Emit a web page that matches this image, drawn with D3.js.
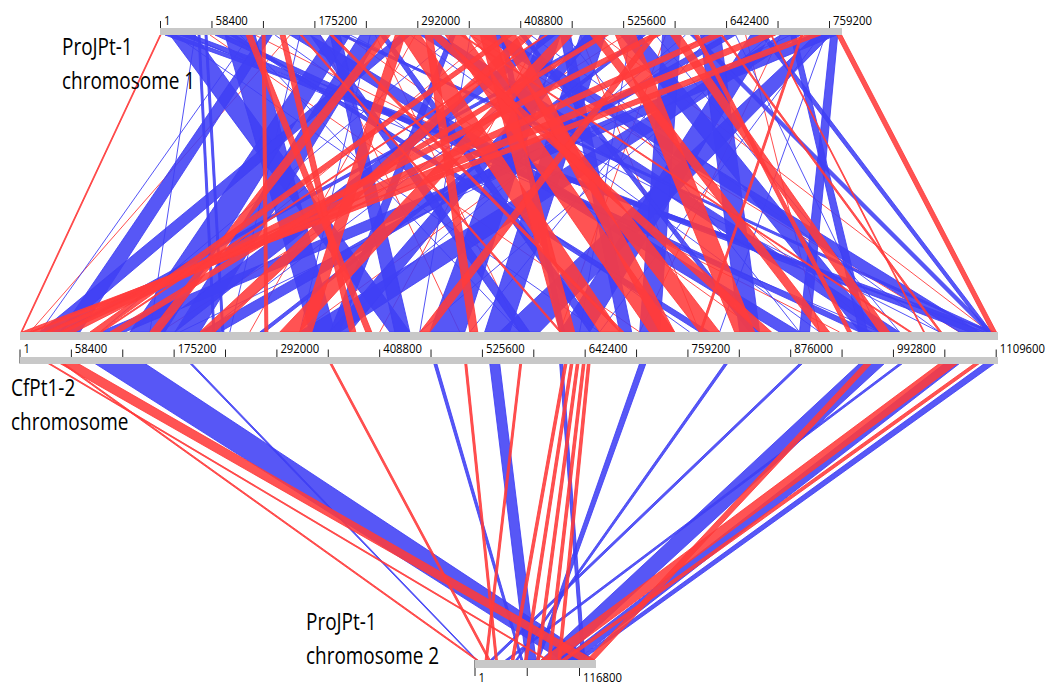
<!DOCTYPE html>
<html>
<head>
<meta charset="utf-8">
<script src="https://cdn.jsdelivr.net/npm/d3@7/dist/d3.min.js"></script>
<style>
  html, body { margin: 0; padding: 0; background: #fff; }
  svg { display: block; }
</style>
</head>
<body>
<svg id="chart" width="1050" height="686"></svg>
<script>
// ---- chromosome lengths (bp) ----
const chr1Length = 773600;     // ProJPt-1 chromosome 1
const cfLength = 1112000;      // CfPt1-2 chromosome
const chr2Length = 136000;     // ProJPt-1 chromosome 2

// ---- tick positions and labelled ticks (bp) ----
const chr1Ticks = [1, 58400, 116800, 175200, 233600, 292000, 350400, 408800, 467200, 525600, 584000, 642400, 700800, 759200];
const chr1Labels = [1, 58400, 175200, 292000, 408800, 525600, 642400, 759200];
const cfTicks = [1, 58400, 116800, 175200, 233600, 292000, 350400, 408800, 467200, 525600, 584000, 642400, 700800, 759200, 817600, 876000, 934400, 992800, 1051200, 1109600];
const cfLabels = [1, 58400, 175200, 292000, 408800, 525600, 642400, 759200, 876000, 992800, 1109600];
const chr2Ticks = [1, 58400, 116800];
const chr2Labels = [1, 116800];

// ---- syntenic blocks chromosome 1 <-> CfPt1-2 (kb): [chr1 start, chr1 end, cf start, cf end] ----
const upperRedBlocks = [
  [0.0, 1.1, 1.7, 2.8], [767.9, 773.6, 1104.8, 1110.4], [693.0, 694.1, 1027.5, 1028.6],
  [606.6, 611.2, 941.2, 945.7], [732.7, 749.8, 2.8, 14.2], [681.6, 698.6, 11.9, 34.6],
  [624.8, 638.4, 29.0, 51.7], [556.6, 568.0, 46.0, 63.0], [499.8, 508.9, 102.8, 114.2],
  [323.8, 346.5, 716.2, 744.6], [352.2, 374.9, 773.0, 795.8], [272.6, 295.4, 659.4, 682.2],
  [386.2, 403.3, 727.6, 744.6], [301.0, 309.0, 511.8, 520.9], [97.7, 104.5, 393.6, 400.4],
  [115.9, 119.3, 278.9, 282.3], [136.3, 142.0, 375.4, 382.3], [454.4, 468.0, 295.9, 318.6],
  [516.9, 539.6, 812.8, 835.5], [556.6, 563.5, 455.0, 466.3], [159.0, 161.3, 614.0, 616.3],
  [193.1, 196.5, 682.2, 686.7], [409.0, 422.6, 205.0, 222.1], [488.5, 499.8, 909.4, 920.7],
  [579.4, 590.7, 977.5, 988.9], [636.2, 638.4, 1045.7, 1048.0], [249.9, 261.3, 148.2, 159.6],
  [340.8, 343.1, 1011.6, 1013.9], [437.4, 439.6, 91.4, 93.7], [727.0, 729.3, 773.0, 775.3],
  [363.5, 380.6, 614.0, 631.0], [267.0, 278.3, 318.6, 332.3], [391.9, 399.9, 80.1, 91.4],
  [306.7, 318.1, 841.2, 854.8]
];
const upperBlueBlocks = [
  [5.7, 17.0, 1096.8, 1108.2], [22.7, 36.4, 1079.8, 1096.8], [43.2, 45.4, 219.8, 222.1],
  [51.1, 53.4, 230.0, 232.3], [11.4, 39.8, 420.9, 443.6], [73.8, 107.9, 330.0, 358.4],
  [193.1, 215.8, 125.5, 165.3], [227.2, 249.9, 176.6, 205.0], [431.7, 454.4, 466.3, 506.1],
  [477.1, 505.5, 528.8, 557.2], [738.4, 767.9, 91.4, 119.8], [704.3, 727.0, 318.6, 364.1],
  [744.1, 761.1, 545.8, 591.3], [670.2, 693.0, 614.0, 648.1], [613.4, 636.2, 818.5, 841.2],
  [522.6, 545.3, 954.8, 977.5], [147.7, 170.4, 863.9, 886.6], [295.4, 318.1, 977.5, 1000.2],
  [363.5, 386.2, 1068.4, 1091.1], [115.9, 127.2, 46.0, 68.7], [272.6, 284.0, 23.3, 46.0],
  [454.4, 465.8, 682.2, 695.8], [570.3, 590.7, 704.9, 727.6], [641.8, 653.2, 205.0, 227.8],
  [499.8, 505.5, 46.0, 52.8], [62.5, 73.8, 954.8, 968.4], [204.5, 210.2, 1100.2, 1105.9],
  [329.4, 335.1, 352.7, 364.1], [602.1, 607.8, 1100.2, 1105.9], [681.6, 687.3, 1100.2, 1104.8],
  [409.0, 414.6, 829.8, 835.5], [170.4, 181.8, 568.6, 579.9], [545.3, 551.0, 273.2, 278.9],
  [249.9, 255.6, 648.1, 659.4], [79.5, 85.2, 773.0, 784.4], [761.1, 769.1, 886.6, 898.0],
  [715.7, 721.4, 954.8, 963.9], [386.2, 391.9, 614.0, 619.7], [193.1, 204.5, 426.6, 443.6],
  [482.8, 494.2, 352.7, 375.4], [437.4, 448.7, 148.2, 176.6]
];
// single short hits chromosome 1 <-> CfPt1-2 (kb): [chr1 position, cf position]
const upperRedHits = [
  [56.8, 704.9], [107.9, 932.1], [181.8, 500.4], [210.2, 841.2], [244.2, 568.6],
  [289.7, 261.8], [374.9, 125.5], [403.3, 977.5], [431.7, 409.5], [477.1, 773.0],
  [528.2, 159.6], [573.7, 614.0], [619.1, 318.6], [664.6, 909.4], [704.3, 704.9],
  [147.7, 11.9], [352.2, 1068.4], [499.8, 1102.5]
];
const upperBlueHits = [
  [17.0, 659.4], [28.4, 977.5], [39.8, 148.2], [90.9, 568.6], [102.2, 23.3],
  [130.6, 761.7], [159.0, 239.1], [215.8, 1045.7], [238.6, 318.6], [284.0, 909.4],
  [335.1, 91.4], [352.2, 455.0], [420.3, 1045.7], [460.1, 886.6], [494.2, 210.7],
  [533.9, 636.7], [562.3, 1000.2], [596.4, 352.7], [624.8, 511.8], [653.2, 977.5],
  [693.0, 455.0], [715.7, 182.3], [755.4, 795.8], [749.8, 659.4]
];

// ---- syntenic blocks CfPt1-2 <-> chromosome 2 (kb): [cf start, cf end, chr2 start, chr2 end] ----
const lowerBlueBlocks = [
  [85.8, 142.6, 97.1, 134.0], [193.7, 196.0, 1.7, 2.8], [470.9, 474.3, 51.7, 54.0],
  [534.5, 545.8, 57.4, 68.7], [704.9, 712.0, 68.7, 72.0], [801.4, 804.9, 46.0, 48.3],
  [954.8, 983.2, 74.4, 97.1], [1051.4, 1068.4, 97.1, 114.2], [1096.8, 1108.2, 114.2, 119.8],
  [1000.2, 1003.7, 34.6, 38.1], [614.0, 617.4, 119.8, 123.3], [886.6, 890.1, 17.6, 21.0]
];
const lowerRedBlocks = [
  [46.0, 66.5, 117.6, 133.5], [32.4, 34.6, 80.1, 82.4], [48.3, 50.6, 1.7, 4.0],
  [352.7, 355.0, 15.3, 17.6], [506.1, 508.4, 23.3, 25.6],
  [619.3, 622.3, 41.1, 44.1], [626.1, 629.1, 55.9, 58.9], [632.9, 635.9, 69.5, 72.5],
  [639.8, 642.8, 82.0, 85.0], [645.5, 648.5, 93.4, 96.4],
  [960.5, 968.4, 125.5, 133.5], [1045.7, 1066.1, 74.4, 91.4], [568.6, 570.8, 11.9, 14.2],
  [1085.4, 1091.1, 97.1, 102.8]
];

const RED = "#ff3b3b";
const BLUE = "#4040f5";
const BAR = "#c8c8c8";
const FONT = "'Open Sans', 'DejaVu Sans', sans-serif";
const NAME_SQUEEZE = 0.79;   // horizontal squeeze for a condensed look
const TICK_SQUEEZE = 0.84;
const kb = v => v * 1000;

const svg = d3.select("#chart");

// ---- scales ----
const xChr1 = d3.scaleLinear().domain([1, 759200]).range([160, 829]);
const xCf = d3.scaleLinear().domain([1, 1109600]).range([19.5, 995.7]);
const xChr2 = d3.scaleLinear().domain([1, 116800]).range([474.5, 579]);

// vertical layout
const yChr1Bar = 28, chr1BarH = 7;
const yCfBarA = 332, cfBarAH = 8;
const yCfBarB = 356.5, cfBarBH = 7;
const yChr2Bar = 660, chr2BarH = 8;

const linkLayer = svg.append("g");

// ribbons between two chromosomes
function ribbons(data, color, xa, ya, xb, yb) {
  linkLayer.append("g").selectAll("polygon")
    .data(data)
    .join("polygon")
    .attr("points", d => [
      [xa(kb(d[0])), ya], [xa(kb(d[1])), ya],
      [xb(kb(d[3])), yb], [xb(kb(d[2])), yb]
    ].map(p => p.join(",")).join(" "))
    .attr("fill", color)
    .attr("fill-opacity", 0.88)
    .attr("stroke", color)
    .attr("stroke-opacity", 0.95)
    .attr("stroke-width", 0.9)
    .attr("stroke-linejoin", "round");
}
function hits(data, color, xa, ya, xb, yb) {
  linkLayer.append("g").selectAll("line")
    .data(data)
    .join("line")
    .attr("x1", d => xa(kb(d[0]))).attr("y1", ya)
    .attr("x2", d => xb(kb(d[1]))).attr("y2", yb)
    .attr("stroke", color)
    .attr("stroke-opacity", 0.9)
    .attr("stroke-width", 1);
}

const yU1 = yChr1Bar + chr1BarH, yU2 = yCfBarA;
const yL1 = yCfBarB + cfBarBH, yL2 = yChr2Bar;

hits(upperRedHits, RED, xChr1, yU1, xCf, yU2);
hits(upperBlueHits, BLUE, xChr1, yU1, xCf, yU2);
ribbons(upperBlueBlocks, BLUE, xChr1, yU1, xCf, yU2);
ribbons(upperRedBlocks, RED, xChr1, yU1, xCf, yU2);
ribbons(lowerBlueBlocks, BLUE, xCf, yL1, xChr2, yL2);
ribbons(lowerRedBlocks, RED, xCf, yL1, xChr2, yL2);

// ---- axes ----
function axis(scale, ticks, labels, y, orient, size, labelY) {
  const ax = (orient === "top" ? d3.axisTop(scale) : d3.axisBottom(scale))
    .tickValues(ticks)
    .tickSize(size)
    .tickFormat(d => labels.includes(d) ? String(d) : "");
  const g = svg.append("g")
    .attr("transform", `translate(0,${y})`)
    .call(ax);
  g.select(".domain").remove();
  g.selectAll(".tick line").attr("stroke", "#222").attr("stroke-width", 1);
  g.selectAll(".tick text")
    .attr("text-anchor", "start")
    .attr("x", 3.5 / TICK_SQUEEZE)
    .attr("y", labelY)
    .attr("dy", 0)
    .attr("transform", `scale(${TICK_SQUEEZE},1)`)
    .attr("fill", "#000")
    .style("font-family", FONT)
    .style("font-size", "13.5px");
  return g;
}
axis(xChr1, chr1Ticks, chr1Labels, yChr1Bar + chr1BarH, "top", 14, -10.5);
axis(xCf, cfTicks, cfLabels, yCfBarB + cfBarBH, "top", 14, -11);
axis(xChr2, chr2Ticks, chr2Labels, yChr2Bar, "bottom", 16, 22);

// ---- chromosome bars ----
const bars = svg.append("g").attr("shape-rendering", "crispEdges");
bars.append("rect").attr("x", xChr1(1)).attr("y", yChr1Bar)
  .attr("width", xChr1(chr1Length) - xChr1(1)).attr("height", chr1BarH).attr("fill", BAR);
bars.append("rect").attr("x", xCf(1)).attr("y", yCfBarA)
  .attr("width", xCf(cfLength) - xCf(1)).attr("height", cfBarAH).attr("fill", BAR);
bars.append("rect").attr("x", xCf(1)).attr("y", yCfBarB)
  .attr("width", xCf(cfLength) - xCf(1)).attr("height", cfBarBH).attr("fill", BAR);
bars.append("rect").attr("x", xChr2(1)).attr("y", yChr2Bar)
  .attr("width", xChr2(chr2Length) - xChr2(1)).attr("height", chr2BarH).attr("fill", BAR);

// ---- chromosome names ----
const names = [
  { lines: ["ProJPt-1", "chromosome 1"], x: 62, y: 55 },
  { lines: ["CfPt1-2", "chromosome"], x: 11, y: 396 },
  { lines: ["ProJPt-1", "chromosome 2"], x: 306, y: 630 }
];
const nameG = svg.append("g")
  .style("font-family", FONT)
  .style("font-size", "24px")
  .style("font-weight", 500)
  .attr("fill", "#000");
names.forEach(n => {
  n.lines.forEach((t, i) => {
    nameG.append("text")
      .attr("transform", `translate(${n.x},${n.y + i * 34}) scale(${NAME_SQUEEZE},1)`)
      .text(t);
  });
});
</script>
</body>
</html>
